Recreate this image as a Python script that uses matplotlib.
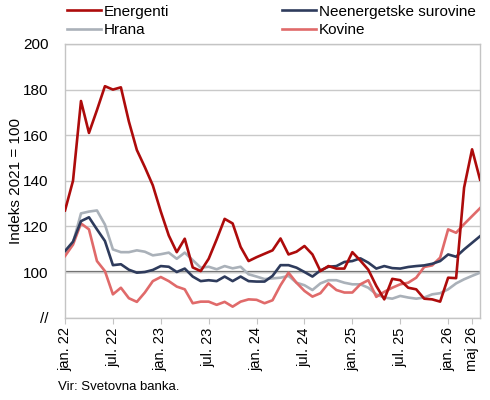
import numpy as np
import matplotlib
matplotlib.use("Agg")
import matplotlib.pyplot as plt

plt.rcParams['font.family'] = ['Liberation Sans', 'DejaVu Sans']

# monthly index values, jan. 2022 .. maj 2026 (2021 = 100)
energenti = [127, 140, 175, 161, 171, 181.5, 180, 181, 166, 153.5, 146, 138,
             126.5, 116, 108.7, 114.6, 102, 100.4, 105.8, 114.3, 123.3, 121.3, 111, 104.8,
             106.5, 108, 109.5, 114.7, 107.7, 108.9, 111.4, 107.7, 100.4, 102.6, 101.5, 101.5,
             108.7, 105, 101, 93.9, 88, 97, 96.4, 93.1, 92.4, 88.3, 88, 87,
             97.5, 97.3, 137, 153.8, 140.5]
neenergetske = [109.2, 113.3, 122.3, 124, 118.7, 113.6, 103, 103.4, 101, 99.7, 100, 100.9,
                102.6, 102.3, 100, 101.5, 98, 96, 96.4, 96, 98, 96, 98, 96,
                95.8, 95.8, 98.3, 103, 103, 101.9, 100, 98, 100.7, 102.3, 102.6, 104.4,
                104.8, 106, 104.1, 101.5, 102.6, 101.7, 101.5, 102.2, 102.6, 102.9, 103.6, 104.8,
                107.7, 106.7, 109.9, 112.8, 115.7]
hrana = [107.7, 112.8, 125.7, 126.5, 127, 120.8, 109.9, 108.7, 108.7, 109.5, 108.9, 107.3,
         107.8, 108.5, 105.8, 108.5, 105.2, 101.9, 102.3, 101.2, 102.6, 101.6, 102.3, 99,
         98, 96.9, 97.2, 97.5, 98.3, 95.3, 94.2, 92.1, 95, 96.4, 96.4, 95.3,
         94.6, 94.6, 93.1, 90.2, 88.8, 88.3, 89.5, 88.8, 88.3, 88.8, 90.2, 90.7,
         92.4, 95, 96.8, 98.3, 99.7]
kovine = [107, 112, 121.3, 118.7, 104.8, 100.4, 90.2, 93.1, 88.5, 86.9, 91, 96,
          97.8, 96, 93.6, 92.4, 86.3, 87, 87, 85.6, 86.9, 84.8, 87, 88,
          87.8, 86.3, 87.6, 94.2, 99.7, 95.3, 91.7, 89.2, 90.7, 95, 92.1, 91,
          91, 94.6, 96.4, 89.1, 91.3, 93.1, 94.6, 95.3, 97.5, 102.2, 102.9, 106.3,
          118.7, 117.2, 121, 124.5, 128]

tick_pos = [0, 6, 12, 18, 24, 30, 36, 42, 48, 51]
tick_labels = ["jan. 22", "jul. 22", "jan. 23", "jul. 23", "jan. 24", "jul. 24",
               "jan. 25", "jul. 25", "jan. 26", "maj 26"]
y_ticks = [80, 100, 120, 140, 160, 180, 200]
y_labels = ["//", "100", "120", "140", "160", "180", "200"]

months = np.arange(len(energenti))

fig = plt.figure(figsize=(4.9, 4.0), dpi=100)
ax = fig.add_axes([0.1327, 0.206, 0.847, 0.684])

ax.set_xlim(0, len(energenti) - 1)
ax.set_ylim(80, 200)
ax.set_yticks(y_ticks)
ax.set_yticklabels(y_labels)
ax.set_xticks(tick_pos)
ax.set_xticklabels(tick_labels, rotation=90)

ax.grid(axis='y', color='#c9c9c9', lw=1.0, zorder=0)
ax.axhline(100, color='#5f5f5f', lw=1.6, zorder=1)

l_h, = ax.plot(months, hrana, color='#aab1b9', lw=1.9, zorder=2, label='Hrana')
l_k, = ax.plot(months, kovine, color='#e06a6a', lw=1.9, zorder=3, label='Kovine')
l_n, = ax.plot(months, neenergetske, color='#2e3b5c', lw=1.9, zorder=4, label='Neenergetske surovine')
l_e, = ax.plot(months, energenti, color='#ad0b0b', lw=1.9, zorder=5, label='Energenti')

for s in ax.spines.values():
    s.set_color('#c4c4c4')
    s.set_linewidth(1.0)

ax.tick_params(axis='y', length=0, labelsize=11, pad=12)
ax.tick_params(axis='x', length=4, color='#c4c4c4', labelsize=10.5, pad=3)
ax.set_ylabel("Indeks 2021 = 100", fontsize=11, labelpad=0)

fig.legend([l_e, l_h, l_n, l_k], ['Energenti', 'Hrana', 'Neenergetske surovine', 'Kovine'],
           ncol=2, loc='upper left', bbox_to_anchor=(0.125, 1.004), frameon=False,
           fontsize=11, handlelength=2.2, handletextpad=0.2, columnspacing=7.4,
           labelspacing=0.3, borderaxespad=0)

fig.text(0.118, 0.024, "Vir: Svetovna banka.", fontsize=9.5)

fig.savefig("out.png", dpi=100)
